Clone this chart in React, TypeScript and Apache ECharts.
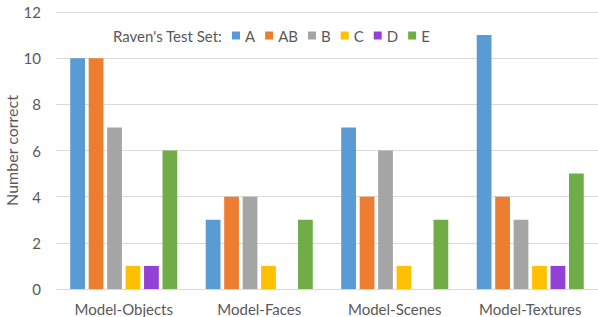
import React, { useEffect, useRef } from "react";
import * as echarts from "echarts";

const categories = ["Model-Objects", "Model-Faces", "Model-Scenes", "Model-Textures"];
const seriesNames = ["A", "AB", "B", "C", "D", "E"];
const valuesA = [10, 3, 7, 11];
const valuesAB = [10, 4, 4, 4];
const valuesB = [7, 4, 6, 3];
const valuesC = [1, 1, 1, 1];
const valuesD = [1, 0, 0, 1];
const valuesE = [6, 3, 3, 5];
const colors = ["#5B9BD5", "#ED7D31", "#A5A5A5", "#FFC000", "#9340D4", "#70AD47"];

export default function App() {
  const ref = useRef<HTMLDivElement>(null);
  useEffect(() => {
    if (!ref.current) return;
    const chart = echarts.init(ref.current, null, { renderer: "svg" });
    const data = [valuesA, valuesAB, valuesB, valuesC, valuesD, valuesE];
    const font = "Lato, 'Open Sans', sans-serif";
    chart.setOption({
      animation: false,
      textStyle: { fontFamily: font },
      color: colors,
      grid: { left: 56, right: 0, top: 12, bottom: 28, containLabel: false, outerBoundsMode: "none" },
      graphic: [
        {
          type: "text",
          x: 113,
          y: 36,
          style: {
            text: "Raven's Test Set:",
            fill: "#595959",
            font: `15px ${font}`,
            textVerticalAlign: "middle",
            verticalAlign: "middle",
          },
        },
      ],
      legend: {
        left: 232,
        top: 28,
        padding: 0,
        itemWidth: 8,
        itemHeight: 8,
        itemGap: 10,
        icon: "rect",
        textStyle: { color: "#595959", fontSize: 15, fontFamily: font, lineHeight: 15 },
        data: seriesNames,
      },
      xAxis: {
        type: "category",
        data: categories,
        axisLine: { lineStyle: { color: "#D9D9D9", width: 1 } },
        axisTick: { show: false },
        axisLabel: { color: "#595959", fontSize: 15, lineHeight: 15, margin: 12 },
      },
      yAxis: {
        type: "value",
        min: 0,
        max: 12,
        interval: 2,
        name: "Number correct",
        nameLocation: "middle",
        nameGap: 37,
        nameMoveOverlap: false,
        nameTextStyle: { color: "#595959", fontSize: 16, lineHeight: 16 },
        axisLabel: { color: "#595959", fontSize: 15, margin: 15 },
        splitLine: { lineStyle: { color: "#D9D9D9", width: 1 } },
        axisLine: { show: false },
        axisTick: { show: false },
      },
      series: seriesNames.map((name, i) => ({
        name,
        type: "bar",
        data: data[i],
        barGap: "25%",
        barCategoryGap: "21%",
        itemStyle: { color: colors[i] },
      })),
    });
    return () => chart.dispose();
  }, []);
  return <div ref={ref} style={{ width: 598, height: 317, position: "absolute", left: 0, top: 0 }} />;
}
